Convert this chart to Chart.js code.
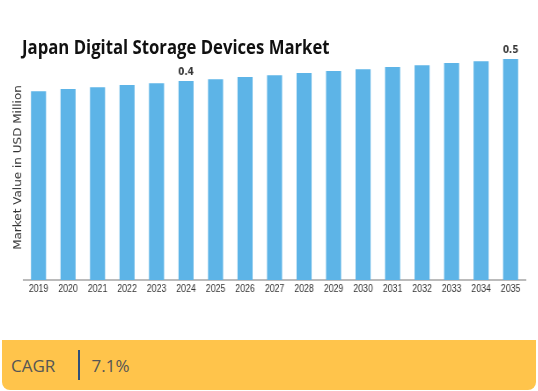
<!DOCTYPE html>
<html>
<head>
<meta charset="utf-8">
<script src="https://cdn.jsdelivr.net/npm/chart.js@4"></script>
<style>
  body { margin: 0; background: #fff; font-family: "Open Sans", sans-serif; }
  #title {
    position: absolute; left: 22px; top: 38px; margin: 0;
    font-size: 19px; line-height: 19px; font-weight: 700; color: #111;
    white-space: nowrap; transform: scaleX(0.88); transform-origin: left center;
  }
  /* the source image is squeezed horizontally, so the whole chart is too */
  #wrap { position: absolute; left: 0; top: 0; transform: scaleX(0.88); transform-origin: 0 0; }
  #cagr {
    position: absolute; left: 2px; top: 340px; width: 534px; height: 50px;
    background: #ffc44b; border-radius: 0 0 8px 8px;
    display: flex; align-items: center; color: #555; font-size: 17px;
  }
  #cagr .lbl { padding-left: 9px; width: 67px; }
  #cagr .sep { width: 1.5px; height: 30px; background: #2f4f7a; margin-right: 12px; }
</style>
</head>
<body>
<div id="wrap"><canvas id="marketChart" width="611" height="298"></canvas></div>
<h1 id="title">Japan Digital Storage Devices Market</h1>
<div id="cagr"><span class="lbl">CAGR</span><span class="sep"></span><span>7.1%</span></div>
<script>
const years = ['2019', '2020', '2021', '2022', '2023', '2024', '2025', '2026', '2027',
    '2028', '2029', '2030', '2031', '2032', '2033', '2034', '2035'];
const marketValues = [0.427, 0.432, 0.436, 0.441, 0.445, 0.45, 0.454, 0.459, 0.463,
    0.468, 0.473, 0.477, 0.482, 0.486, 0.491, 0.495, 0.5];
const shownLabels = { '2024': '0.4', '2035': '0.5' };

const valueLabels = {
    id: 'valueLabels',
    afterDatasetsDraw(chart) {
        const ctx = chart.ctx;
        const meta = chart.getDatasetMeta(0);
        ctx.save();
        ctx.font = 'bold 10px "DejaVu Sans"';
        ctx.fillStyle = '#333';
        ctx.textAlign = 'center';
        ctx.textBaseline = 'bottom';
        meta.data.forEach((bar, i) => {
            const txt = shownLabels[years[i]];
            if (txt) ctx.fillText(txt, bar.x, bar.y - 4);
        });
        ctx.restore();
    }
};

new Chart(document.getElementById('marketChart'), {
    type: 'bar',
    data: {
        labels: years,
        datasets: [{
            label: 'Market Value',
            data: marketValues,
            backgroundColor: '#5db4e7',
            categoryPercentage: 1,
            barPercentage: 0.51,
        }]
    },
    options: {
        responsive: false,
        animation: false,
        layout: { padding: { left: 0, right: 14, top: 55, bottom: 0 } },
        plugins: {
            legend: { display: false },
            tooltip: { enabled: false },
        },
        scales: {
            x: {
                grid: { display: false, drawTicks: false },
                border: { display: true, color: '#bbb', width: 2 },
                ticks: { color: '#333', font: { family: 'Liberation Sans', size: 10 }, padding: 3, maxRotation: 0, autoSkip: false },
            },
            y: {
                min: 0,
                max: 0.509,
                grid: { display: false, drawTicks: false },
                border: { display: false },
                ticks: { display: false },
                title: {
                    display: true,
                    text: 'Market Value in USD Million',
                    color: '#333',
                    font: { family: 'DejaVu Sans', size: 12, lineHeight: 1 },
                    padding: { top: 15, bottom: 0 }
                }
            },
        },
    },
    plugins: [valueLabels],
});
</script>
</body>
</html>
